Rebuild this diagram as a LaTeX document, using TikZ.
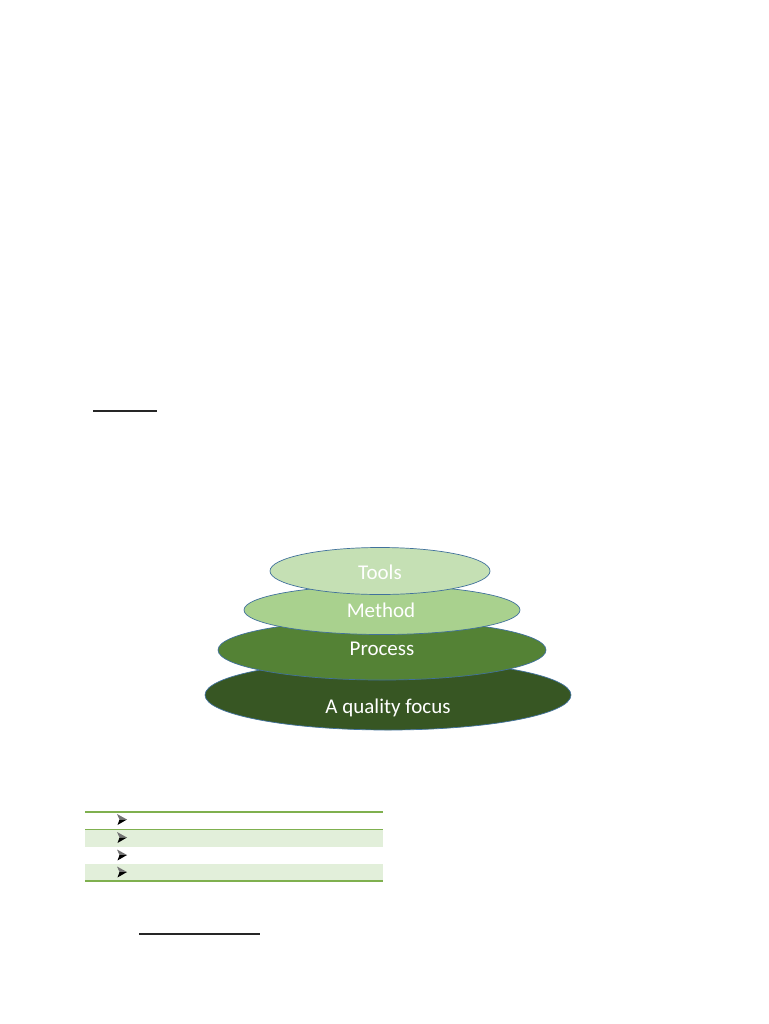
\documentclass[tikz,border=0pt]{standalone}
\usepackage{fontspec}
\setmainfont{Carlito}
\definecolor{tierA}{HTML}{C5E0B4}
\definecolor{tierB}{HTML}{A9D18E}
\definecolor{tierC}{HTML}{548235}
\definecolor{tierD}{HTML}{375623}
\definecolor{rimcol}{HTML}{41719C}
\definecolor{tabline}{HTML}{7FB04F}
\definecolor{tabshade}{HTML}{E2EFDA}
\tikzset{
  tier/.style={draw=rimcol, line width=0.7pt},
  tierlabel/.style={text=white, font=\fontsize{21}{25}\selectfont, inner sep=0pt},
  rule/.style={line width=1.6pt, black!85},
  pics/arrowbullet/.style={code={
    \fill[black!55] (-5,-5.5) -- (5,0) -- (-2.5,0) -- cycle;
    \fill[black] (-2.5,0) -- (5,0) -- (-4.5,5.5) -- cycle;
  }}
}
\begin{document}
\begin{tikzpicture}[x=1pt,y=-1pt]
\fill[white] (0,0) rectangle (768,1024);
\useasboundingbox (0,0) rectangle (768,1024);
% underline rules
\coordinate (u1a) at (93,411);
\coordinate (u1b) at (157,411);
\draw[rule] (u1a) -- (u1b);
\coordinate (u2a) at (139,934);
\coordinate (u2b) at (260,934);
\draw[rule] (u2a) -- (u2b);
% stacked ellipses
\filldraw[tier, fill=tierD] (388,695) ellipse [x radius=183, y radius=35];
\filldraw[tier, fill=tierC] (382,650) ellipse [x radius=164, y radius=30];
\filldraw[tier, fill=tierB] (382,610) ellipse [x radius=138, y radius=24.5];
\filldraw[tier, fill=tierA] (380,571) ellipse [x radius=110, y radius=23.5];
\node[tierlabel] (t1) at (380,572) {Tools};
\node[tierlabel] (t2) at (381,610) {Method};
\node[tierlabel] (t3) at (382,649) {Process};
\node[tierlabel] (t4) at (388,708) {A quality focus};
% table
\fill[tabshade] (85,829.5) rectangle (383,846.5);
\fill[tabshade] (85,863.5) rectangle (383,880);
\draw[tabline, line width=2pt] (85,811.5) -- (383,811.5);
\draw[tabline, line width=1pt] (85,829.3) -- (383,829.3);
\draw[tabline, line width=2pt] (85,880.5) -- (383,880.5);
\pic at (122,819.5) {arrowbullet};
\pic at (122,837.5) {arrowbullet};
\pic at (122,855) {arrowbullet};
\pic at (122,872) {arrowbullet};
\end{tikzpicture}
\end{document}
